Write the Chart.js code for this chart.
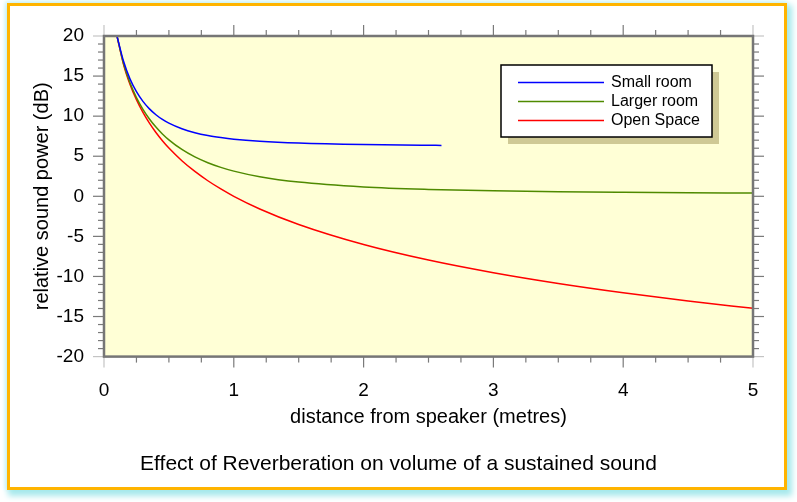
<!DOCTYPE html>
<html>
<head>
<meta charset="utf-8">
<script src="https://cdn.jsdelivr.net/npm/chart.js@4.4.0/dist/chart.umd.min.js"></script>
<style>
  html, body { margin: 0; padding: 0; background: #fff; }
  body { width: 797px; height: 502px; position: relative; overflow: hidden; }
  #frame {
    position: absolute; left: 7px; top: 3px; width: 774px; height: 481px;
    border: 3.5px solid #ffb400; background: #fff;
    box-shadow: 3px 4px 6px 2px #a6e9ec, -1px -1px 4px 1px #d6f6f8;
  }
  canvas { position: absolute; left: 0; top: 0; }
</style>
</head>
<body>
<div id="frame"></div>
<canvas id="chart" width="797" height="502"></canvas>
<script>
// valores (distancia em metros, potencia em dB)
const distances = [0.1, 0.15, 0.2, 0.25, 0.3, 0.35, 0.4, 0.45, 0.5, 0.6, 0.7, 0.8, 0.9, 1.0, 1.2, 1.5, 2.0, 2.5, 3, 3.5, 4, 4.5, 5];
const distSmall = [0.1, 0.15, 0.2, 0.25, 0.3, 0.35, 0.4, 0.45, 0.5, 0.6, 0.7, 0.8, 0.9, 1.0, 1.2, 1.5, 2.0, 2.5, 2.6];

const smallRoom  = [20, 16.87, 14.65, 13.05, 11.84, 10.91, 10.18, 9.59, 9.12, 8.42, 7.93, 7.58, 7.33, 7.13, 6.87, 6.64, 6.45, 6.36, 6.35];
const largerRoom = [20, 16.58, 14.16, 12.32, 10.85, 9.65, 8.64, 7.78, 7.04, 5.84, 4.91, 4.19, 3.61, 3.14, 2.44, 1.77, 1.17, 0.86, 0.68, 0.57, 0.50, 0.45, 0.41];
const openSpace  = [20, 16.48, 13.98, 12.04, 10.46, 9.12, 7.96, 6.94, 6.02, 4.44, 3.10, 1.94, 0.92, 0, -1.58, -3.52, -6.02, -7.96, -9.54, -10.88, -12.04, -13.06, -13.98];

const seriesNames = ['Small room', 'Larger room', 'Open Space'];
const seriesColors = ['#0000ff', '#4f8a00', '#ff0000'];

const xTicks = [0, 1, 2, 3, 4, 5];
const yTicks = [-20, -15, -10, -5, 0, 5, 10, 15, 20];

const FONT = '"Liberation Sans", Arial, Helvetica, sans-serif';

function toPoints(xs, ys) {
    return xs.map((x, i) => ({ x: x, y: ys[i] }));
}

// fundo, moldura, marcas dos eixos e legenda
const framePlugin = {
    id: 'framePlugin',
    beforeDatasetsDraw(chart) {
        const { ctx, chartArea: a } = chart;
        ctx.save();
        ctx.fillStyle = '#ffffd6';
        ctx.fillRect(a.left, a.top, a.right - a.left, a.bottom - a.top);
        ctx.restore();
    },
    afterDatasetsDraw(chart) {
        const { ctx, chartArea: a } = chart;
        const sx = chart.scales.x, sy = chart.scales.y;
        const dark = '#7a7a7a', light = '#c4c4c4';

        ctx.save();
        ctx.lineWidth = 1.2;

        function seg(x1, y1, x2, y2, c) {
            ctx.strokeStyle = c;
            ctx.beginPath();
            ctx.moveTo(x1, y1);
            ctx.lineTo(x2, y2);
            ctx.stroke();
        }

        for (let i = 0; i <= 20; i++) {
            const v = i * 0.25;
            const px = sx.getPixelForValue(v);
            const len = (i % 4 === 0) ? 11 : 6;
            const c = (i === 0 || i === 20) ? light : dark;
            seg(px, a.bottom, px, a.bottom + len, c);
            seg(px, a.top, px, a.top - len, c);
        }
        for (let v = -20; v <= 20; v++) {
            const py = sy.getPixelForValue(v);
            const len = (v % 5 === 0) ? 11 : 6;
            const c = (v === -20 || v === 20) ? light : dark;
            seg(a.left, py, a.left - len, py, c);
            seg(a.right, py, a.right + len, py, c);
        }

        ctx.strokeStyle = '#767676';
        ctx.lineWidth = 2.5;
        ctx.strokeRect(a.left, a.top, a.right - a.left, a.bottom - a.top);

        // legenda
        const lg = { left: 501, top: 65, w: 211, h: 72 };
        ctx.fillStyle = '#cfc995';
        ctx.fillRect(lg.left + 7, lg.top + 7, lg.w, lg.h);
        ctx.fillStyle = '#ffffff';
        ctx.fillRect(lg.left, lg.top, lg.w, lg.h);
        ctx.strokeStyle = '#000';
        ctx.lineWidth = 1.5;
        ctx.strokeRect(lg.left, lg.top, lg.w, lg.h);

        ctx.font = '16px ' + FONT;
        ctx.textBaseline = 'middle';
        ctx.textAlign = 'left';
        chart.data.datasets.forEach((ds, i) => {
            const y = lg.top + 17.5 + i * 19;
            ctx.strokeStyle = ds.borderColor;
            ctx.lineWidth = 1.5;
            ctx.beginPath();
            ctx.moveTo(lg.left + 17, y);
            ctx.lineTo(lg.left + 103, y);
            ctx.stroke();
            ctx.fillStyle = '#000';
            ctx.fillText(ds.label, lg.left + 110, y);
        });
        ctx.restore();
    }
};

const ctx = document.getElementById('chart');

const config = {
    type: 'scatter',
    data: {
        datasets: [
            { label: seriesNames[0], data: toPoints(distSmall, smallRoom), borderColor: seriesColors[0] },
            { label: seriesNames[1], data: toPoints(distances, largerRoom), borderColor: seriesColors[1] },
            { label: seriesNames[2], data: toPoints(distances, openSpace), borderColor: seriesColors[2] }
        ]
    },
    options: {
        responsive: false,
        animation: false,
        showLine: true,
        elements: {
            point: { radius: 0 },
            line: { borderWidth: 1.5, cubicInterpolationMode: 'monotone', fill: false }
        },
        layout: { padding: { left: 0, right: 0, top: 36, bottom: 0 } },
        scales: {
            x: {
                type: 'linear', min: 0, max: 5,
                afterBuildTicks: (s) => { s.ticks = xTicks.map(v => ({ value: v })); },
                afterFit: (s) => { s.height = 92.2; },
                grid: { display: false, drawTicks: false },
                border: { display: false },
                ticks: { padding: 23, color: '#000', font: { family: FONT, size: 19 } },
                title: {
                    display: true, text: 'distance from speaker (metres)', color: '#000',
                    font: { family: FONT, size: 20 }, padding: { top: 0, bottom: 19 }
                }
            },
            y: {
                type: 'linear', min: -20, max: 20,
                afterBuildTicks: (s) => { s.ticks = yTicks.map(v => ({ value: v })); },
                afterFit: (s) => { s.width = 104; },
                grid: { display: false, drawTicks: false },
                border: { display: false },
                ticks: { padding: 20, color: '#000', font: { family: FONT, size: 19 } },
                title: {
                    display: true, text: 'relative sound power (dB)', color: '#000',
                    font: { family: FONT, size: 20 }, padding: { top: 30, bottom: 0 }
                }
            },
            // eixo vazio só para reservar a margem da direita
            yRight: {
                type: 'linear', position: 'right', min: -20, max: 20,
                afterFit: (s) => { s.width = 44; },
                grid: { display: false, drawTicks: false },
                border: { display: false },
                ticks: { display: false }
            }
        },
        plugins: {
            legend: { display: false },
            tooltip: { enabled: false },
            title: {
                display: true, position: 'bottom', color: '#000',
                text: 'Effect of Reverberation on volume of a sustained sound',
                font: { family: FONT, size: 21, weight: 'normal' },
                padding: { top: 3, bottom: 25 }
            }
        }
    },
    plugins: [framePlugin]
};

new Chart(ctx, config);
</script>
</body>
</html>
